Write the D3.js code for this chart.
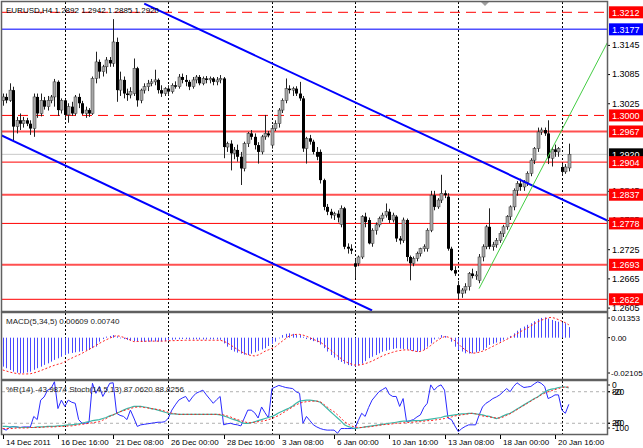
<!DOCTYPE html>
<html><head><meta charset="utf-8">
<script src="https://cdn.jsdelivr.net/npm/d3@7/dist/d3.min.js"></script>
<style>
body{margin:0;background:#fff;}
svg{display:block;}
text{font-family:"Liberation Sans",Arial,sans-serif;}
</style></head>
<body><svg id="c" width="643" height="448"></svg>
<script>
// ---------- DATA ----------
const opens=[1.3031,1.3038,1.3031,1.3052,1.2977,1.2990,1.2983,1.2990,1.2983,1.2973,1.3038,1.3004,1.3031,1.3018,1.3031,1.3038,1.3069,1.3011,1.3031,1.3001,1.3018,1.3004,1.3038,1.3025,1.3004,1.3011,1.3004,1.3076,1.3110,1.3090,1.3100,1.3114,1.3107,1.3151,1.3052,1.3073,1.3045,1.3042,1.3045,1.3097,1.3031,1.3052,1.3059,1.3066,1.3069,1.3073,1.3052,1.3045,1.3055,1.3049,1.3062,1.3059,1.3079,1.3073,1.3069,1.3059,1.3073,1.3079,1.3066,1.3076,1.3073,1.3076,1.3069,1.3073,1.3076,1.2935,1.2942,1.2922,1.2929,1.2915,1.2891,1.2942,1.2963,1.2956,1.2939,1.2925,1.2956,1.2963,1.2939,1.2973,1.2983,1.3011,1.3031,1.3055,1.3052,1.3055,1.3045,1.3035,1.2932,1.2953,1.2946,1.2925,1.2925,1.2867,1.2812,1.2802,1.2795,1.2798,1.2776,1.2809,1.2730,1.2726,1.2696,1.2696,1.2709,1.2792,1.2785,1.2737,1.2764,1.2775,1.2788,1.2795,1.2802,1.2785,1.2792,1.2747,1.2743,1.2785,1.2709,1.2696,1.2706,1.2716,1.2726,1.2726,1.2764,1.2836,1.2812,1.2826,1.2840,1.2833,1.2726,1.2682,1.2651,1.2634,1.2641,1.2648,1.2675,1.2670,1.2661,1.2709,1.2730,1.2771,1.2730,1.2734,1.2743,1.2757,1.2771,1.2792,1.2812,1.2846,1.2860,1.2853,1.2862,1.2881,1.2908,1.2932,1.2966,1.2970,1.2963,1.2912,1.2930,1.2925,1.2894,1.2884,1.2892];
const highs=[1.3045,1.3045,1.3066,1.3059,1.2997,1.3004,1.2997,1.2995,1.2990,1.3045,1.3045,1.3045,1.3038,1.3040,1.3042,1.3075,1.3072,1.3035,1.3034,1.3025,1.3028,1.3042,1.3045,1.3030,1.3018,1.3015,1.3080,1.3131,1.3115,1.3104,1.3120,1.3120,1.3198,1.3160,1.3090,1.3080,1.3055,1.3058,1.3117,1.3100,1.3055,1.3066,1.3073,1.3075,1.3094,1.3076,1.3062,1.3058,1.3062,1.3066,1.3070,1.3085,1.3086,1.3083,1.3073,1.3079,1.3083,1.3083,1.3080,1.3081,1.3080,1.3079,1.3079,1.3083,1.3079,1.2946,1.2949,1.2935,1.2940,1.2925,1.2946,1.2966,1.2970,1.2963,1.2945,1.2960,1.3001,1.2968,1.2980,1.2990,1.3015,1.3035,1.3076,1.3062,1.3059,1.3060,1.3069,1.3040,1.2956,1.2960,1.2950,1.2935,1.2930,1.2870,1.2818,1.2808,1.2802,1.2805,1.2815,1.2812,1.2737,1.2735,1.2705,1.2712,1.2795,1.2800,1.2790,1.2768,1.2780,1.2792,1.2800,1.2819,1.2808,1.2800,1.2795,1.2752,1.2790,1.2788,1.2712,1.2710,1.2720,1.2728,1.2735,1.2768,1.2845,1.2845,1.2830,1.2878,1.2846,1.2840,1.2730,1.2690,1.2660,1.2645,1.2655,1.2678,1.2685,1.2680,1.2715,1.2735,1.2775,1.2809,1.2740,1.2748,1.2762,1.2775,1.2795,1.2815,1.2850,1.2865,1.2870,1.2867,1.2885,1.2912,1.2935,1.2975,1.2975,1.2975,1.2990,1.2935,1.2940,1.2935,1.2900,1.2900,1.2942];
const lows=[1.3020,1.3025,1.3028,1.2949,1.2963,1.2970,1.2975,1.2978,1.2960,1.2956,1.2995,1.2998,1.3012,1.3010,1.3025,1.3018,1.2999,1.3004,1.2995,1.2985,1.2999,1.3000,1.3015,1.3001,1.2995,1.2997,1.3001,1.3066,1.3076,1.3080,1.3086,1.3100,1.3100,1.3028,1.3040,1.3035,1.3030,1.3035,1.3040,1.3018,1.3025,1.3045,1.3050,1.3060,1.3062,1.3045,1.3038,1.3040,1.3042,1.3045,1.3055,1.3055,1.3066,1.3060,1.3052,1.3055,1.3066,1.3062,1.3062,1.3066,1.3066,1.3062,1.3062,1.3066,1.2912,1.2925,1.2887,1.2910,1.2905,1.2857,1.2885,1.2935,1.2950,1.2930,1.2901,1.2920,1.2950,1.2955,1.2932,1.2968,1.2975,1.3005,1.3025,1.3045,1.3040,1.3040,1.3030,1.2925,1.2901,1.2940,1.2920,1.2908,1.2860,1.2805,1.2795,1.2788,1.2785,1.2780,1.2770,1.2725,1.2716,1.2715,1.2665,1.2690,1.2705,1.2770,1.2735,1.2730,1.2755,1.2770,1.2782,1.2790,1.2779,1.2780,1.2740,1.2735,1.2738,1.2700,1.2661,1.2690,1.2700,1.2710,1.2720,1.2720,1.2760,1.2805,1.2808,1.2820,1.2830,1.2722,1.2680,1.2670,1.2622,1.2625,1.2634,1.2640,1.2665,1.2662,1.2655,1.2700,1.2725,1.2725,1.2722,1.2728,1.2738,1.2750,1.2765,1.2785,1.2805,1.2835,1.2845,1.2845,1.2855,1.2875,1.2900,1.2925,1.2960,1.2958,1.2900,1.2895,1.2915,1.2915,1.2880,1.2880,1.2885];
const closes=[1.3038,1.3031,1.3052,1.2977,1.2990,1.2983,1.2990,1.2983,1.2973,1.3038,1.3004,1.3031,1.3018,1.3031,1.3038,1.3069,1.3011,1.3031,1.3001,1.3018,1.3004,1.3038,1.3025,1.3004,1.3011,1.3004,1.3076,1.3110,1.3090,1.3100,1.3114,1.3107,1.3151,1.3052,1.3073,1.3045,1.3042,1.3049,1.3097,1.3031,1.3052,1.3059,1.3066,1.3069,1.3073,1.3052,1.3045,1.3055,1.3049,1.3062,1.3059,1.3079,1.3073,1.3069,1.3059,1.3073,1.3079,1.3066,1.3076,1.3073,1.3076,1.3069,1.3073,1.3076,1.2935,1.2942,1.2922,1.2929,1.2915,1.2891,1.2942,1.2963,1.2956,1.2939,1.2925,1.2956,1.2963,1.2959,1.2973,1.2983,1.3011,1.3031,1.3055,1.3052,1.3055,1.3045,1.3035,1.2932,1.2953,1.2946,1.2925,1.2915,1.2867,1.2812,1.2802,1.2795,1.2798,1.2790,1.2809,1.2730,1.2726,1.2722,1.2689,1.2709,1.2792,1.2781,1.2737,1.2764,1.2775,1.2788,1.2795,1.2802,1.2785,1.2795,1.2747,1.2743,1.2785,1.2709,1.2696,1.2706,1.2716,1.2726,1.2730,1.2764,1.2836,1.2812,1.2826,1.2840,1.2836,1.2726,1.2682,1.2675,1.2634,1.2641,1.2648,1.2675,1.2670,1.2672,1.2709,1.2730,1.2771,1.2730,1.2734,1.2743,1.2757,1.2771,1.2792,1.2812,1.2846,1.2860,1.2853,1.2862,1.2881,1.2908,1.2932,1.2966,1.2970,1.2963,1.2912,1.2930,1.2925,1.2932,1.2884,1.2894,1.2920];

// MACD(5,34,5) in pips (x 0.0001)
const macdHist=[-167,-176,-186,-196,-202,-206,-204,-200,-196,-185,-176,-167,-157,-148,-138,-128,-119,-110,-100,-92,-88,-84,-81,-78,-74,-71,-60,-52,-23,-8,6,10,15,8,-4,-8,-13,-18,-20,-23,-25,-24,-23,-22,-22,-23,-22,-20,-15,-12,-10,-9,-8,-8,-10,-10,-9,-10,-10,-10,-9,-10,-10,-12,-33,-52,-71,-80,-86,-92,-98,-100,-92,-84,-76,-68,-61,-48,-35,-23,-4,15,22,25,22,18,15,5,-8,-13,-20,-26,-40,-60,-80,-100,-115,-129,-140,-150,-158,-163,-167,-160,-150,-135,-118,-110,-100,-90,-81,-75,-70,-65,-61,-63,-65,-67,-72,-77,-81,-76,-71,-52,-33,-10,-4,15,10,0,-23,-52,-71,-80,-90,-91,-90,-85,-78,-71,-58,-42,-35,-28,-23,-12,-4,10,25,40,54,64,74,83,95,108,114,117,110,102,96,92,88,83,61];
const macdSignal=[-186,-192,-198,-203,-206,-209,-209,-209,-208,-203,-197,-190,-182,-174,-166,-159,-153,-148,-138,-127,-118,-108,-100,-90,-79,-67,-57,-45,-33,-22,-12,-3,6,12,8,2,-6,-14,-23,-22,-21,-21,-20,-20,-20,-20,-20,-19,-18,-17,-17,-16,-16,-15,-15,-15,-15,-15,-15,-15,-15,-15,-15,-15,-20,-30,-42,-55,-68,-80,-90,-98,-103,-105,-100,-90,-78,-70,-62,-52,-35,-20,-5,10,16,19,19,15,8,0,-10,-18,-25,-40,-55,-72,-88,-105,-120,-135,-145,-152,-158,-158,-155,-150,-143,-135,-125,-115,-105,-97,-90,-84,-78,-74,-71,-70,-72,-76,-80,-80,-72,-60,-45,-28,-15,-2,6,4,-6,-18,-35,-55,-70,-82,-90,-88,-84,-78,-70,-60,-50,-40,-30,-20,-10,0,10,22,35,45,55,68,80,92,100,108,115,117,112,104,95,86,74];

// Williams %R(14)
const wprValues=[-90,-93,-88,-86,-87,-88,-87,-87,-87,-67,-73,-36,-30,-17,-14,-1,-52,-36,-48,-36,-40,-42,-73,-80,-80,-78,-4,-23,-10,-29,-17,-4,-3,-61,-65,-67,-73,-55,-70,-86,-83,-82,-81,-80,-79,-78,-78,-77,-70,-55,-45,-36,-32,-29,-39,-30,-23,-20,-17,-26,-34,-42,-35,-29,-83,-81,-80,-82,-83,-85,-70,-55,-55,-60,-70,-49,-60,-70,-14,-11,-8,-10,-12,-13,-14,-20,-23,-80,-67,-75,-83,-87,-90,-92,-93,-93,-93,-99,-90,-90,-90,-90,-90,-75,-61,-67,-50,-36,-28,-20,-16,-12,-25,-29,-29,-48,-33,-77,-75,-73,-68,-64,-50,-42,-7,-17,-10,-7,-17,-70,-73,-85,-96,-90,-86,-83,-83,-83,-65,-49,-42,-38,-33,-30,-26,-20,-14,-20,-10,-3,-8,-12,-11,-10,-5,-1,-4,-10,-33,-30,-26,-26,-55,-61,-44];
// Stochastic(14,5,13)
const stochMain=[14,14,13,13,13,12,12,12,12,12,13,13,13,14,14,14,15,15,16,17,17,18,19,20,22,23,25,26,27,29,31,34,36,39,42,45,48,50,52,52,52,51,50,48,47,45,43,41,39,38,38,37,37,37,37,37,37,37,37,37,37,37,37,36,34,32,29,27,25,22,20,20,21,23,25,27,29,31,33,36,40,43,46,49,53,58,62,63,64,64,63,62,60,54,48,42,36,30,24,17,14,12,10,11,12,13,14,15,16,17,18,19,20,21,22,23,24,24,24,25,25,25,26,27,28,29,30,31,33,34,35,36,37,38,38,39,39,38,37,36,34,33,31,29,31,34,37,39,43,47,51,55,59,63,67,70,75,79,83,85,86,88,89,89,87];
const stochSignal=[10,10,10,10,11,11,11,11,12,12,12,12,13,13,13,13,14,14,14,15,15,16,17,18,19,20,21,22,23,26,29,33,36,39,42,44,46,48,50,51,51,50,49,48,47,46,45,43,41,39,38,37,37,37,37,37,37,37,37,37,37,37,37,37,36,34,32,29,27,25,23,21,21,22,23,24,25,27,29,32,35,39,43,47,51,55,58,60,61,62,62,62,61,56,51,46,42,36,30,23,19,15,13,12,12,13,13,14,15,16,17,18,18,19,20,20,21,21,22,22,23,23,24,25,25,26,27,28,29,31,32,34,35,36,37,38,39,38,36,34,33,32,31,30,30,32,35,38,42,46,50,54,58,62,66,70,74,77,80,82,84,86,88,89,89];

const xLabels=["14 Dec 2011","16 Dec 16:00","21 Dec 08:00","26 Dec 00:00","28 Dec 16:00","3 Jan 08:00","6 Jan 00:00","10 Jan 16:00","13 Jan 08:00","18 Jan 00:00","20 Jan 16:00"];
const xLabelBars=[0,16,32,48,64,80,96,112,128,144,160];
const gridBars=[18,48,78,102,132,162];
const priceTicks=[1.3145,1.3085,1.3025,1.2845,1.2785,1.2725,1.2665,1.2605];

const levelPrices=[1.3212,1.3177,1.3000,1.2967,1.2904,1.2837,1.2778,1.2693,1.2622];
const levelKinds=["dash","blue","dash","thick","thin","thick","thin","thick","thin"];
const currentPrice=1.2920;

const upperLineBars=[41,176], upperLinePrices=[1.3230,1.2781];
const lowerLineBars=[-1,107], lowerLinePrices=[1.2961,1.2599];
const greenLineBars=[138,176], greenLinePrices=[1.2644,1.3161];

const headerText="EURUSD,H4  1.2892 1.2942 1.2885 1.2920";
const macdText="MACD(5,34,5) 0.00609 0.00740";
const stochText="%R(14) -43.9874  Stoch(14,5,13) 87.0620 88.8256";
const macdAxis=[{v:135.3,t:"0.01353"},{v:0,t:"0.00"},{v:-210.5,t:"-0.02105"}];
const stochAxis=[{v:100,t:"0"},{v:80,t:"80"},{v:80,t:"-20"},{v:20,t:"20"},{v:20,t:"-80"},{v:0,t:"-100"}];

// ---------- LAYOUT ----------
const svg=d3.select("#c");
const PL=2, PR=607;
const main={top:2,bottom:311}, macdP={top:313,bottom:379}, stochP={top:381,bottom:434};

const x=d3.scaleLinear().domain([0,160]).range([2.7,555]);
const y=d3.scaleLinear().domain([1.2622,1.3212]).range([299.3,12.3]);
const yM=d3.scaleLinear().domain([-210.5,135.3]).range([374.2,314.2]);
const yS=d3.scaleLinear().domain([0,100]).range([433.8,381.2]);
const bars=d3.range(closes.length);

svg.append("rect").attr("width",643).attr("height",448).attr("fill","#fff");

const defs=svg.append("defs");
[["cm",main],["cmacd",macdP],["cst",stochP]].forEach(([id,p])=>{
  defs.append("clipPath").attr("id",id).append("rect")
    .attr("x",PL).attr("y",p.top).attr("width",PR-PL).attr("height",p.bottom-p.top);
});

// vertical dotted grid
const grid=svg.append("g");
[main,macdP,stochP].forEach(p=>{
  grid.selectAll(null).data(gridBars).enter().append("line")
    .attr("x1",d=>Math.round(x(d))+0.5).attr("x2",d=>Math.round(x(d))+0.5)
    .attr("y1",p.top).attr("y2",p.bottom)
    .attr("stroke","#000").attr("stroke-width",1).attr("stroke-dasharray","2,2");
});

// ---------- MAIN PANEL ----------
const gm=svg.append("g").attr("clip-path","url(#cm)");
gm.append("line").attr("x1",PL).attr("x2",PR).attr("y1",y(currentPrice)).attr("y2",y(currentPrice))
  .attr("stroke","#c8c8c8").attr("stroke-width",1);
levelPrices.forEach((p,i)=>{
  const k=levelKinds[i];
  const ln=gm.append("line").attr("x1",PL).attr("x2",PR).attr("y1",y(p)).attr("y2",y(p));
  if(k==="dash") ln.attr("stroke","#ff0000").attr("stroke-width",1).attr("stroke-dasharray","10,6");
  else if(k==="blue") ln.attr("stroke","#5050ff").attr("stroke-width",1.5);
  else if(k==="thick") ln.attr("stroke","#ff5050").attr("stroke-width",2);
  else ln.attr("stroke","#ff0000").attr("stroke-width",1);
});
// candles
const cg=gm.append("g");
cg.selectAll("line.w").data(bars).enter().append("line")
  .attr("x1",i=>Math.round(x(i))+0.5).attr("x2",i=>Math.round(x(i))+0.5)
  .attr("y1",i=>y(highs[i])).attr("y2",i=>y(lows[i]))
  .attr("stroke","#222").attr("stroke-width",1);
cg.selectAll("rect.b").data(bars).enter().append("rect")
  .attr("x",i=>Math.round(x(i))-1).attr("width",3)
  .attr("y",i=>y(Math.max(opens[i],closes[i])))
  .attr("height",i=>Math.max(1,Math.abs(y(opens[i])-y(closes[i]))))
  .attr("fill",i=>closes[i]>=opens[i]?"#a8a8a8":"#000")
  .attr("stroke",i=>closes[i]>=opens[i]?"#333":"none").attr("stroke-width",0.5);
// trend lines
const tl=(bs,ps,col,w)=>gm.append("line")
  .attr("x1",x(bs[0])).attr("y1",y(ps[0])).attr("x2",x(bs[1])).attr("y2",y(ps[1]))
  .attr("stroke",col).attr("stroke-width",w);
tl(upperLineBars,upperLinePrices,"#0000ff",2);
tl(lowerLineBars,lowerLinePrices,"#0000ff",2);
tl(greenLineBars,greenLinePrices,"#44cc44",1);
// chart shift marker
svg.append("path").attr("d",`M${x(160)-74},2 L${x(160)-66},2 L${x(160)-70},6 Z`).attr("fill","#a0a0a0");

// header
svg.append("text").attr("x",6).attr("y",12.5).attr("font-size",8).attr("fill","#000").text(headerText);

// right price axis
const ax=svg.append("g").attr("transform",`translate(${PR},0)`)
  .call(d3.axisRight(y).tickValues(priceTicks).tickSize(3).tickPadding(2).tickFormat(d3.format(".4f")));
ax.select(".domain").remove();
ax.selectAll("text").attr("font-size",9).attr("font-family","Liberation Sans, Arial, sans-serif").attr("fill","#000");
ax.selectAll("line").attr("stroke","#000");

// level label boxes
const lbl=(p,col)=>{
  svg.append("rect").attr("x",609).attr("y",y(p)-6).attr("width",34).attr("height",12).attr("fill",col);
  svg.append("text").attr("x",612).attr("y",y(p)+3.5).attr("font-size",9).attr("fill","#fff").text(d3.format(".4f")(p));
};
lbl(currentPrice,"#000");
levelPrices.forEach((p,i)=>lbl(p,levelKinds[i]==="blue"?"#0000ff":"#ff0000"));

// ---------- MACD PANEL ----------
const gmacd=svg.append("g").attr("clip-path","url(#cmacd)");
gmacd.selectAll("line").data(bars).enter().append("line")
  .attr("x1",i=>Math.round(x(i))+0.5).attr("x2",i=>Math.round(x(i))+0.5)
  .attr("y1",yM(0)).attr("y2",i=>yM(macdHist[i]))
  .attr("stroke","#4a4aff").attr("stroke-width",1);
gmacd.append("path").datum(bars)
  .attr("d",d3.line().x(i=>x(i)).y(i=>yM(macdSignal[i])))
  .attr("fill","none").attr("stroke","#ff2020").attr("stroke-width",1).attr("stroke-dasharray","2,2");
svg.append("text").attr("x",6).attr("y",324).attr("font-size",8).attr("fill","#222").text(macdText);
macdAxis.forEach(d=>{
  const yy=Math.max(macdP.top+5,Math.min(macdP.bottom-6,yM(d.v)));
  svg.append("line").attr("x1",PR).attr("x2",PR+3).attr("y1",yy).attr("y2",yy).attr("stroke","#000");
  svg.append("text").attr("x",611).attr("y",yy+3).attr("font-size",8).attr("fill","#000").text(d.t);
});

// ---------- STOCH PANEL ----------
const gst=svg.append("g").attr("clip-path","url(#cst)");
[80,20].forEach(v=>gst.append("line").attr("x1",PL).attr("x2",PR).attr("y1",yS(v)).attr("y2",yS(v))
  .attr("stroke","#b0b0b0").attr("stroke-dasharray","3,3"));
gst.append("path").datum(bars).attr("d",d3.line().x(i=>x(i)).y(i=>yS(wprValues[i]+100)))
  .attr("fill","none").attr("stroke","#2a2aff").attr("stroke-width",1);
gst.append("path").datum(bars).attr("d",d3.line().x(i=>x(i)).y(i=>yS(stochMain[i])))
  .attr("fill","none").attr("stroke","#3cb8a8").attr("stroke-width",1.2);
gst.append("path").datum(bars).attr("d",d3.line().x(i=>x(i)).y(i=>yS(stochSignal[i])))
  .attr("fill","none").attr("stroke","#ff2020").attr("stroke-width",1).attr("stroke-dasharray","2,2");
svg.append("text").attr("x",6).attr("y",391.5).attr("font-size",8).attr("fill","#222").text(stochText);
stochAxis.forEach(d=>{
  const yy=Math.max(stochP.top+4,Math.min(stochP.bottom-6,yS(d.v)));
  svg.append("line").attr("x1",PR).attr("x2",PR+3).attr("y1",yy).attr("y2",yy).attr("stroke","#000");
  svg.append("text").attr("x",612).attr("y",yy+3).attr("font-size",8.5).attr("fill","#000").text(d.t);
});

// ---------- FRAMES ----------
[main,macdP,stochP].forEach(p=>{
  svg.append("rect").attr("x",PL-0.5).attr("y",p.top-0.5).attr("width",PR-PL+1).attr("height",p.bottom-p.top+1)
    .attr("fill","none").attr("stroke","#606060").attr("stroke-width",1.5);
});

// x axis
xLabelBars.forEach((b,k)=>{
  const xx=Math.round(x(b))+0.5;
  svg.append("line").attr("x1",xx).attr("x2",xx).attr("y1",stochP.bottom+1).attr("y2",stochP.bottom+5).attr("stroke","#000");
  svg.append("text").attr("x",xx+2.5).attr("y",445).attr("font-size",8).attr("fill","#000").text(xLabels[k]);
});
</script>
</body></html>
